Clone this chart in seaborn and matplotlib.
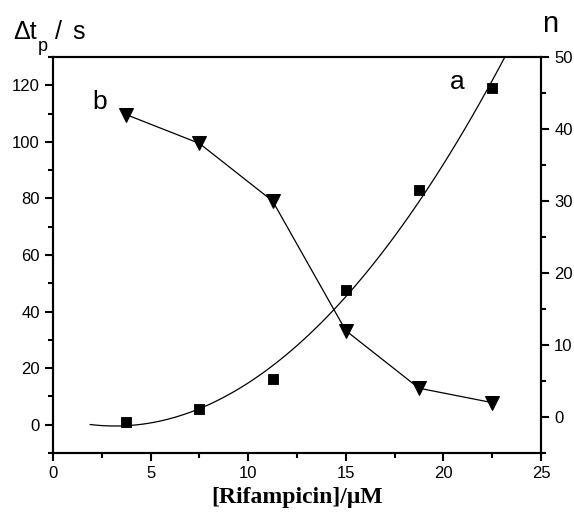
import numpy as np
import pandas as pd
import matplotlib
matplotlib.use("Agg")
import matplotlib.pyplot as plt
from matplotlib.ticker import MultipleLocator
import seaborn as sns

sns.set_style("ticks")
plt.rcParams['font.family'] = ['Liberation Sans', 'DejaVu Sans']
plt.rcParams.update({"text.color": "black", "axes.labelcolor": "black",
                     "xtick.color": "black", "ytick.color": "black",
                     "axes.edgecolor": "black"})

# data
conc = [3.75, 7.5, 11.25, 15.0, 18.75, 22.5]
dt_p = [1, 5.5, 16, 47.5, 83, 119]      # curve a, left axis (s)
n_val = [42, 38, 30, 12, 4, 2]          # curve b, right axis

df = pd.DataFrame({"conc": conc, "dt": dt_p, "n": n_val})

W, H = 574, 520
fig = plt.figure(figsize=(W / 100, H / 100), dpi=100)
ax = fig.add_axes([0.0923, 0.1288, 0.8502, 0.7616])
ax2 = ax.twinx()

# a: squares plus 2nd order fit
ax.set_xlim(1.9, 25)
sns.regplot(data=df, x="conc", y="dt", order=2, ci=None, truncate=False,
            scatter=False, ax=ax, line_kws=dict(color="black", lw=0.9))
sns.scatterplot(data=df, x="conc", y="dt", ax=ax, marker="s", s=60,
                color="black", edgecolor="black", zorder=3)

# b: triangles joined by lines
sns.lineplot(data=df, x="conc", y="n", ax=ax2, color="black", lw=0.9,
             marker="v", markersize=10, markeredgecolor="black")

ax.set_xlim(0, 25)
ax.set_ylim(-10, 130)
ax2.set_ylim(-5, 50)

ax.xaxis.set_major_locator(MultipleLocator(5))
ax.xaxis.set_minor_locator(MultipleLocator(2.5))
ax.yaxis.set_major_locator(MultipleLocator(20))
ax.yaxis.set_minor_locator(MultipleLocator(10))
ax2.yaxis.set_major_locator(MultipleLocator(10))
ax2.yaxis.set_minor_locator(MultipleLocator(5))

for a in (ax, ax2):
    for sp in a.spines.values():
        sp.set_linewidth(1.5)
        sp.set_color("black")
        sp.set_visible(True)
    a.tick_params(which="major", length=6, width=1.5, labelsize=12,
                  direction="out", colors="black")
    a.tick_params(which="minor", length=3.5, width=1.5, direction="out", colors="black")
    a.set_ylabel("")
ax.set_xlabel("[Rifampicin]/μM", fontsize=17, fontweight="bold",
              family=["Liberation Serif", "DejaVu Serif"], labelpad=4)

# axis titles placed in pixel positions
fig.text(13 / W, 1 - 39 / H, "Δt", fontsize=18, ha="left", va="baseline")
fig.text(38 / W, 1 - 51 / H, "p", fontsize=13, ha="left", va="baseline")
fig.text(55 / W, 1 - 39 / H, "/", fontsize=18, ha="left", va="baseline")
fig.text(72 / W, 1 - 39 / H, "s", fontsize=18, ha="left", va="baseline")
fig.text(550 / W, 1 - 32 / H, "n", fontsize=21, ha="center", va="baseline")
ax.text(2.4, 114, "b", fontsize=19, ha="center", va="center")
ax.text(20.7, 121, "a", fontsize=19, ha="center", va="center")

fig.savefig("out.png", dpi=100)
